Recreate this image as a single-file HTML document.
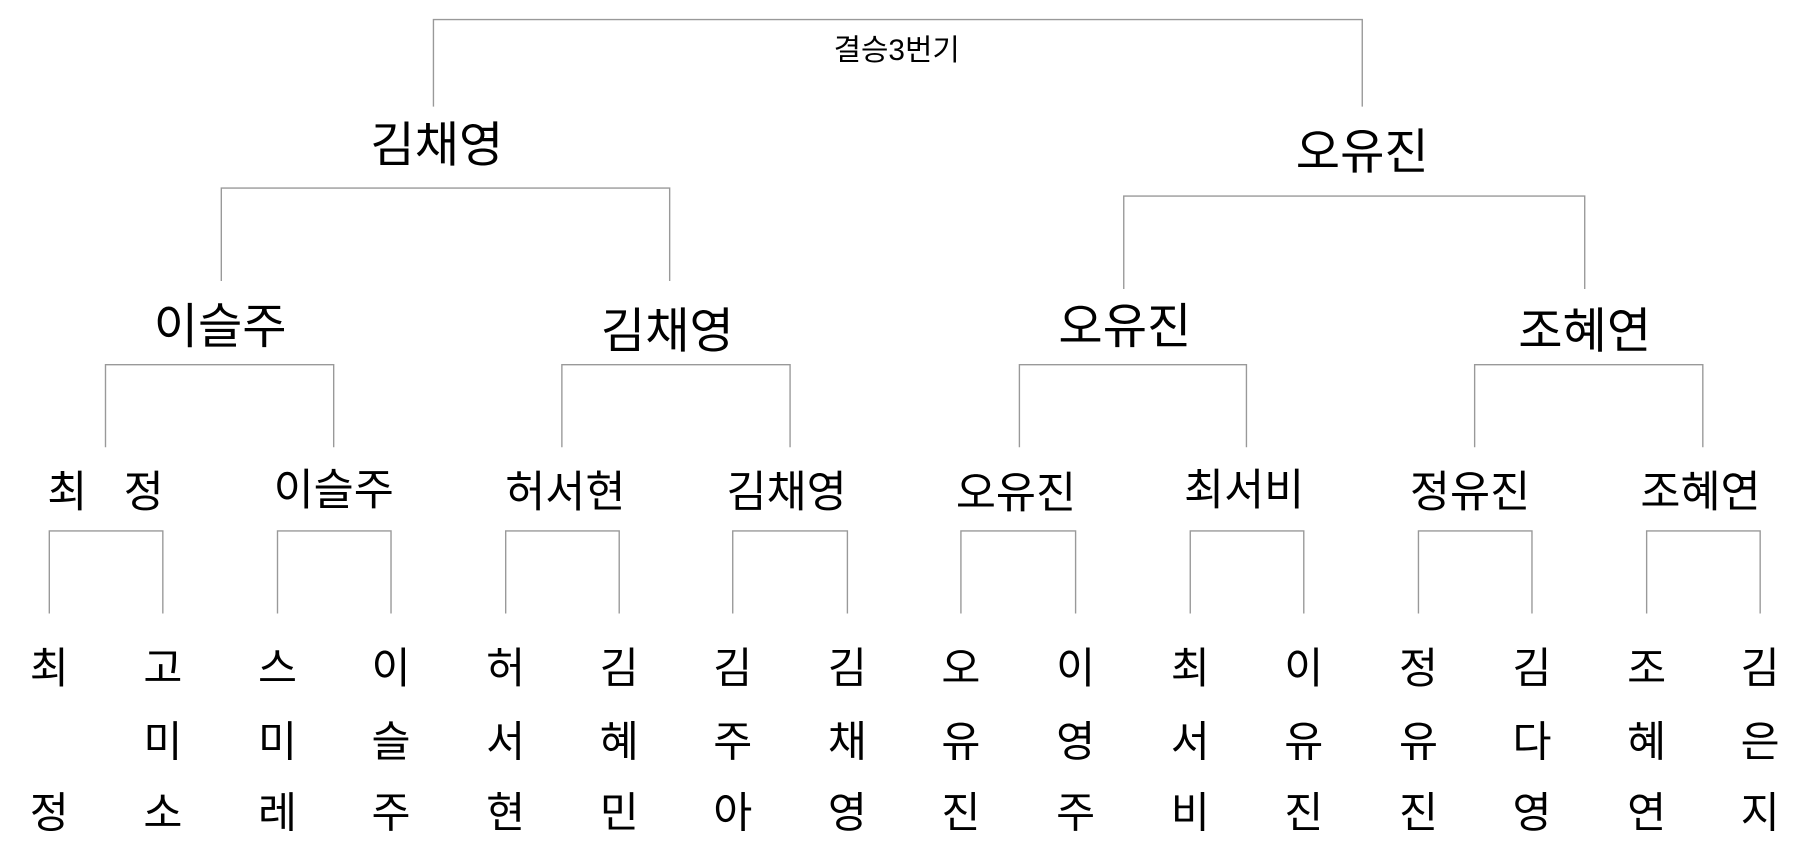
<!DOCTYPE html>
<html><head><meta charset="utf-8"><style>
html,body{margin:0;padding:0;background:#fff;width:1798px;height:844px;overflow:hidden}
svg{display:block}
text{font-family:"Liberation Sans","Noto Sans CJK KR","NanumGothic",sans-serif;fill:#000;text-anchor:middle;dominant-baseline:central}
</style></head><body>
<svg width="1798" height="844" viewBox="0 0 1568 736" xmlns="http://www.w3.org/2000/svg">
<g fill="none" stroke="#999" stroke-width="1.2">
<polyline points="378,93 378,17 1188,17 1188,93"/>
<polyline points="193,245 193,164 584,164 584,245"/>
<polyline points="980,252 980,171 1382,171 1382,252"/>
<polyline points="92,390 92,318 291,318 291,390"/>
<polyline points="490,390 490,318 689,318 689,390"/>
<polyline points="889,390 889,318 1087,318 1087,390"/>
<polyline points="1286,390 1286,318 1485,318 1485,390"/>
<polyline points="43,535 43,463 142,463 142,535"/>
<polyline points="242,535 242,463 341,463 341,535"/>
<polyline points="441,535 441,463 540,463 540,535"/>
<polyline points="639,535 639,463 739,463 739,535"/>
<polyline points="838,535 838,463 938,463 938,535"/>
<polyline points="1038,535 1038,463 1137,463 1137,535"/>
<polyline points="1237,535 1237,463 1336,463 1336,535"/>
<polyline points="1436,535 1436,463 1535,463 1535,535"/>
</g>
<text x="782" y="44" font-size="26">결승3번기</text>
<g font-size="42">
<text x="381" y="127">김채영</text>
<text x="1188" y="133">오유진</text>
<text x="192" y="285">이슬주</text>
<text x="582" y="289">김채영</text>
<text x="981" y="285">오유진</text>
<text x="1382" y="289">조혜연</text>
</g>
<g font-size="38">
<text x="92" y="430" xml:space="preserve">최   정</text>
<text x="291" y="428">이슬주</text>
<text x="493" y="430">허서현</text>
<text x="686" y="430">김채영</text>
<text x="886" y="431">오유진</text>
<text x="1085" y="428">최서비</text>
<text x="1282" y="430">정유진</text>
<text x="1483" y="430">조혜연</text>
</g>
<g font-size="37">
<text x="43" y="583">최</text><text x="43" y="709">정</text>
<text x="142" y="583">고</text><text x="142" y="647">미</text><text x="142" y="709">소</text>
<text x="242" y="583">스</text><text x="242" y="647">미</text><text x="242" y="709">레</text>
<text x="341" y="583">이</text><text x="341" y="647">슬</text><text x="341" y="709">주</text>
<text x="441" y="583">허</text><text x="441" y="647">서</text><text x="441" y="709">현</text>
<text x="540" y="583">김</text><text x="540" y="647">혜</text><text x="540" y="709">민</text>
<text x="639" y="583">김</text><text x="639" y="647">주</text><text x="639" y="709">아</text>
<text x="739" y="583">김</text><text x="739" y="647">채</text><text x="739" y="709">영</text>
<text x="838" y="583">오</text><text x="838" y="647">유</text><text x="838" y="709">진</text>
<text x="938" y="583">이</text><text x="938" y="647">영</text><text x="938" y="709">주</text>
<text x="1038" y="583">최</text><text x="1038" y="647">서</text><text x="1038" y="709">비</text>
<text x="1137" y="583">이</text><text x="1137" y="647">유</text><text x="1137" y="709">진</text>
<text x="1237" y="583">정</text><text x="1237" y="647">유</text><text x="1237" y="709">진</text>
<text x="1336" y="583">김</text><text x="1336" y="647">다</text><text x="1336" y="709">영</text>
<text x="1436" y="583">조</text><text x="1436" y="647">혜</text><text x="1436" y="709">연</text>
<text x="1535" y="583">김</text><text x="1535" y="647">은</text><text x="1535" y="709">지</text>
</g>
</svg>
</body></html>
